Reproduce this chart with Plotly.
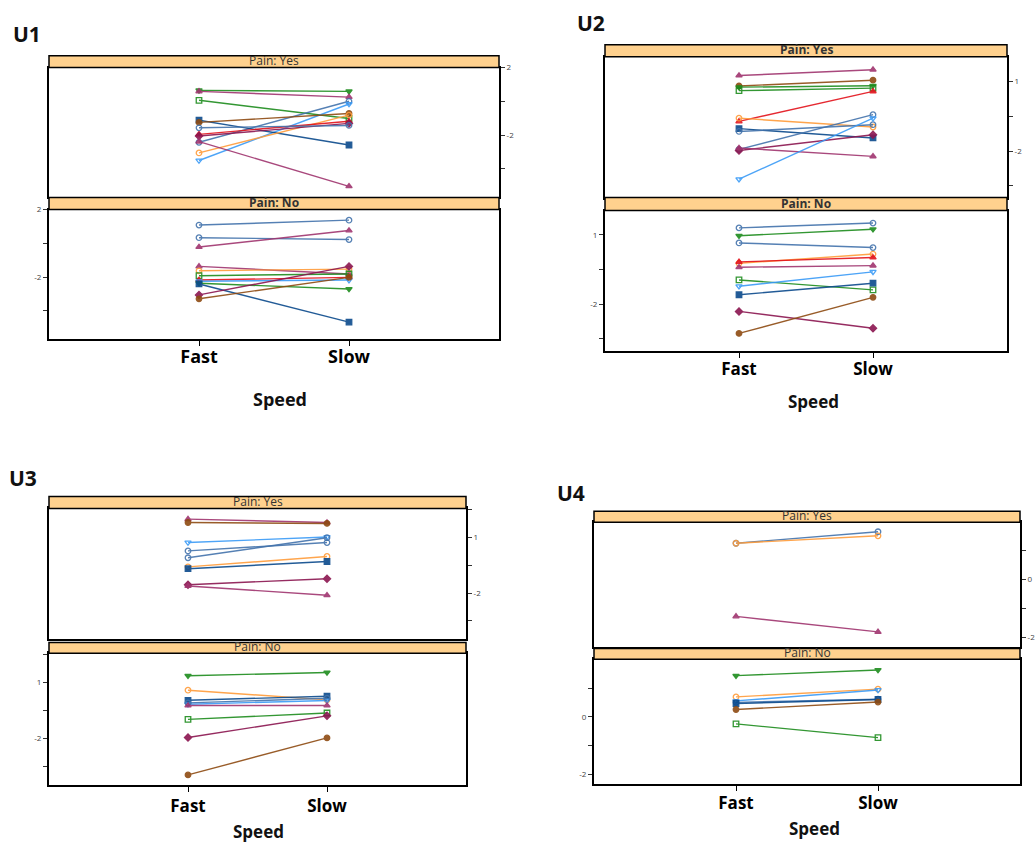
import plotly.graph_objects as go

W, H = 1035, 842
SPEED = ["Fast", "Slow"]

# ---------------- data ----------------
U1_YES_KIND = ["green_dtri", "mauve_tri", "green_sq", "steel_circ", "sky_dtri", "navy_sq",
               "brown_circ", "orange", "red_tri", "maroon_diam", "steel_circ", "mauve_tri"]
U1_YES_FAST = [0.65, 0.59, 0.06, -2.43, -3.51, -1.12, -1.25, -3.06, -1.96, -2.06, -1.57, -2.39]
U1_YES_SLOW = [0.59, 0.25, -1.02, 0.00, -0.16, -2.59, -0.72, -0.82, -1.18, -1.31, -1.43, -5.04]

U1_NO_KIND = ["steel_circ", "steel_circ", "mauve_tri", "mauve_tri", "orange", "green_sq",
              "red_tri", "sky_dtri", "green_dtri", "navy_sq", "maroon_diam", "brown_circ"]
U1_NO_FAST = [1.08, 0.33, -0.22, -1.37, -1.63, -1.92, -2.18, -2.25, -2.37, -2.41, -3.06, -3.29]
U1_NO_SLOW = [1.37, 0.22, 0.76, -1.82, -1.53, -1.82, -2.02, -2.18, -2.71, -4.67, -1.37, -2.02]

U2_YES_KIND = ["mauve_tri", "brown_circ", "green_dtri", "green_sq", "red_tri", "orange",
               "navy_sq", "steel_circ", "steel_circ", "maroon_diam", "mauve_tri", "sky_dtri"]
U2_YES_FAST = [1.24, 0.79, 0.74, 0.59, -0.73, -0.59, -1.04, -1.16, -1.93, -1.98, -1.87, -3.21]
U2_YES_SLOW = [1.49, 1.04, 0.80, 0.70, 0.56, -0.97, -1.44, -0.87, -0.44, -1.30, -2.23, -0.59]

U2_NO_KIND = ["steel_circ", "green_dtri", "steel_circ", "orange", "red_tri", "mauve_tri",
              "green_sq", "sky_dtri", "navy_sq", "maroon_diam", "brown_circ"]
U2_NO_FAST = [1.30, 0.96, 0.65, -0.23, -0.17, -0.40, -0.95, -1.22, -1.59, -2.31, -3.26]
U2_NO_SLOW = [1.51, 1.24, 0.45, 0.17, 0.02, -0.33, -1.38, -0.60, -1.09, -3.04, -1.70]

U3_YES_KIND = ["mauve_tri", "brown_circ", "sky_dtri", "steel_circ", "steel_circ", "orange",
               "navy_sq", "maroon_diam", "mauve_tri"]
U3_YES_FAST = [1.98, 1.80, 0.72, 0.27, -0.10, -0.59, -0.69, -1.55, -1.62]
U3_YES_SLOW = [1.80, 1.75, 1.02, 0.72, 0.98, -0.03, -0.30, -1.23, -2.12]

U3_NO_KIND = ["green_dtri", "orange", "navy_sq", "sky_dtri", "steel_circ", "mauve_tri",
              "green_sq", "maroon_diam", "brown_circ"]
U3_NO_FAST = [1.36, 0.59, 0.05, -0.16, -0.09, -0.23, -0.97, -1.94, -3.94]
U3_NO_SLOW = [1.54, 0.07, 0.27, 0.04, 0.16, -0.23, -0.63, -0.78, -1.96]

U4_YES_KIND = ["steel_circ", "orange", "mauve_tri"]
U4_YES_FAST = [1.27, 1.27, -1.28]
U4_YES_SLOW = [1.67, 1.53, -1.82]

U4_NO_KIND = ["green_dtri", "orange", "sky_dtri", "steel_circ", "navy_sq", "brown_circ", "green_sq"]
U4_NO_FAST = [1.43, 0.69, 0.55, 0.50, 0.46, 0.25, -0.25]
U4_NO_SLOW = [1.63, 0.96, 0.93, 0.61, 0.60, 0.51, -0.73]

# y tick labels as printed on each unit's axes
U1_TICKVALS = [2, 0, -2, -4]
U1_TICKTEXT = ["2", "", "-2", ""]
U2_TICKVALS = [1, -0.5, -2, -3.5]
U2_TICKTEXT = ["1", "", "-2", ""]
U3_TICKVALS = [2.5, 1, -0.5, -2, -3.5]
U3_TICKTEXT = ["", "1", "", "-2", ""]
U4_TICKVALS = [1, 0, -1, -2]
U4_TICKTEXT = ["", "0", "", "-2"]

# ---------------- styles ----------------
STYLE = {
    "steel_circ": ("#4373AC", "circle-open"),
    "navy_sq": ("#0B4A8C", "square"),
    "sky_dtri": ("#3A9BF7", "triangle-down-open"),
    "green_dtri": ("#1D8C1D", "triangle-down"),
    "green_sq": ("#1D8C1D", "square-open"),
    "orange": ("#FF9C3A", "circle-open"),
    "red_tri": ("#E3121B", "triangle-up"),
    "brown_circ": ("#8E4B12", "circle"),
    "maroon_diam": ("#8B1650", "diamond"),
    "mauve_tri": ("#A0356F", "triangle-up"),
}
STRIP_FILL = "#FFD18E"

# panel geometry in pixels
PANELS = [
    dict(name="U1", left=49, right=499, ystrip=(50, 62), ytop=(62, 192), bstrip=(193, 205), ybot=(205, 335),
         yrange=[-5.65, 2.0], tv=U1_TICKVALS, tt=U1_TICKTEXT, fs=18, stand=-4,
         title=(27, 28), speed=(280, 396), bold_yes=False, bold_no=True,
         yes=(U1_YES_KIND, U1_YES_FAST, U1_YES_SLOW), no=(U1_NO_KIND, U1_NO_FAST, U1_NO_SLOW)),
    dict(name="U2", left=605, right=1007, ystrip=(39, 51), ytop=(51, 193), bstrip=(193, 206), ybot=(206, 347),
         yrange=[-4.0, 2.05], tv=U2_TICKVALS, tt=U2_TICKTEXT, fs=17, stand=-3,
         title=(591, 17), speed=(813, 398), bold_yes=True, bold_no=True,
         yes=(U2_YES_KIND, U2_YES_FAST, U2_YES_SLOW), no=(U2_NO_KIND, U2_NO_FAST, U2_NO_SLOW)),
    dict(name="U3", left=49, right=466, ystrip=(494, 506), ytop=(506, 638), bstrip=(641, 652), ybot=(652, 785),
         yrange=[-4.5, 2.56], tv=U3_TICKVALS, tt=U3_TICKTEXT, fs=17, stand=-1,
         title=(23, 475), speed=(258, 831), bold_yes=False, bold_no=False,
         yes=(U3_YES_KIND, U3_YES_FAST, U3_YES_SLOW), no=(U3_NO_KIND, U3_NO_FAST, U3_NO_SLOW)),
    dict(name="U4", left=594, right=1020, ystrip=(509, 520), ytop=(520, 646), bstrip=(647, 658), ybot=(658, 784),
         yrange=[-2.36, 2.0], tv=U4_TICKVALS, tt=U4_TICKTEXT, fs=17, stand=-3,
         title=(571, 490), speed=(814, 828), bold_yes=False, bold_no=False,
         yes=(U4_YES_KIND, U4_YES_FAST, U4_YES_SLOW), no=(U4_NO_KIND, U4_NO_FAST, U4_NO_SLOW)),
]

def px_x(v):
    return v / W

def px_y(v):
    return 1 - v / H

fig = go.Figure()
layout = dict(width=W, height=H, margin=dict(l=0, r=0, t=0, b=0), showlegend=False,
              paper_bgcolor="white", plot_bgcolor="white",
              font=dict(family="Open Sans, DejaVu Sans, sans-serif", color="#222"))
shapes, annotations = [], []

k = 0
for p in PANELS:
    for sub in ("yes", "no"):
        k += 1
        xa = "x" if k == 1 else f"x{k}"
        ya = "y" if k == 1 else f"y{k}"
        kinds, fast, slow = p[sub]
        for kind, f, s in zip(kinds, fast, slow):
            col, sym = STYLE[kind]
            fig.add_trace(go.Scatter(
                x=SPEED, y=[f, s], mode="lines+markers", xaxis=xa, yaxis=ya,
                line=dict(color=col, width=1.4),
                marker=dict(symbol=sym, size=5.5, color=col, line=dict(color=col, width=1.3)),
                opacity=0.9, hoverinfo="skip"))
        ytop, ybot = p["ytop"] if sub == "yes" else p["ybot"]
        is_bottom = sub == "no"
        layout[f"xaxis{k}"] = dict(
            domain=[px_x(p["left"]), px_x(p["right"])], anchor=ya, type="category",
            categoryorder="array", categoryarray=SPEED, range=[-1, 2],
            showline=True, mirror=True, linecolor="black", linewidth=2,
            showgrid=False, zeroline=False,
            ticks="outside" if is_bottom else "", ticklen=5, tickcolor="black",
            showticklabels=is_bottom, ticklabelstandoff=p["stand"],
            tickfont=dict(size=p["fs"], color="black", weight="bold",
                          family="Open Sans, DejaVu Sans, sans-serif"))
        layout[f"yaxis{k}"] = dict(
            domain=[px_y(ybot), px_y(ytop)], anchor=xa, range=p["yrange"],
            side="right" if sub == "yes" else "left",
            tickmode="array", tickvals=p["tv"], ticktext=p["tt"],
            showline=True, mirror=True, linecolor="black", linewidth=2,
            showgrid=False, zeroline=False, ticks="outside", ticklen=4, tickcolor="#333",
            tickfont=dict(size=8, color="#444"))
        # strip
        s0, s1 = p["ystrip"] if sub == "yes" else p["bstrip"]
        shapes.append(dict(type="rect", xref="paper", yref="paper",
                           x0=px_x(p["left"]), x1=px_x(p["right"]), y0=px_y(s1), y1=px_y(s0),
                           fillcolor=STRIP_FILL, line=dict(color="black", width=1.5), layer="above"))
        bold = p["bold_yes"] if sub == "yes" else p["bold_no"]
        label = "Pain: Yes" if sub == "yes" else "Pain: No"
        annotations.append(dict(xref="paper", yref="paper", x=px_x((p["left"] + p["right"]) / 2),
                                y=px_y((s0 + s1) / 2 - 1), text=label, showarrow=False,
                                xanchor="center", yanchor="middle",
                                font=dict(size=12, color="#333", weight="bold" if bold else "normal")))
    annotations.append(dict(xref="paper", yref="paper", x=px_x(p["title"][0]), y=px_y(p["title"][1]),
                            text=p["name"], showarrow=False, xanchor="center", yanchor="middle",
                            font=dict(size=21, color="#111", weight="bold")))
    annotations.append(dict(xref="paper", yref="paper", x=px_x(p["speed"][0]), y=px_y(p["speed"][1]),
                            text="Speed", showarrow=False, xanchor="center", yanchor="middle",
                            font=dict(size=p["fs"], color="#111", weight="bold")))

layout["shapes"] = shapes
layout["annotations"] = annotations
fig.update_layout(**layout)
fig.write_html("out.html", config={"displayModeBar": False},
               post_script="document.body.style.margin='0';document.body.style.overflow='hidden';")
